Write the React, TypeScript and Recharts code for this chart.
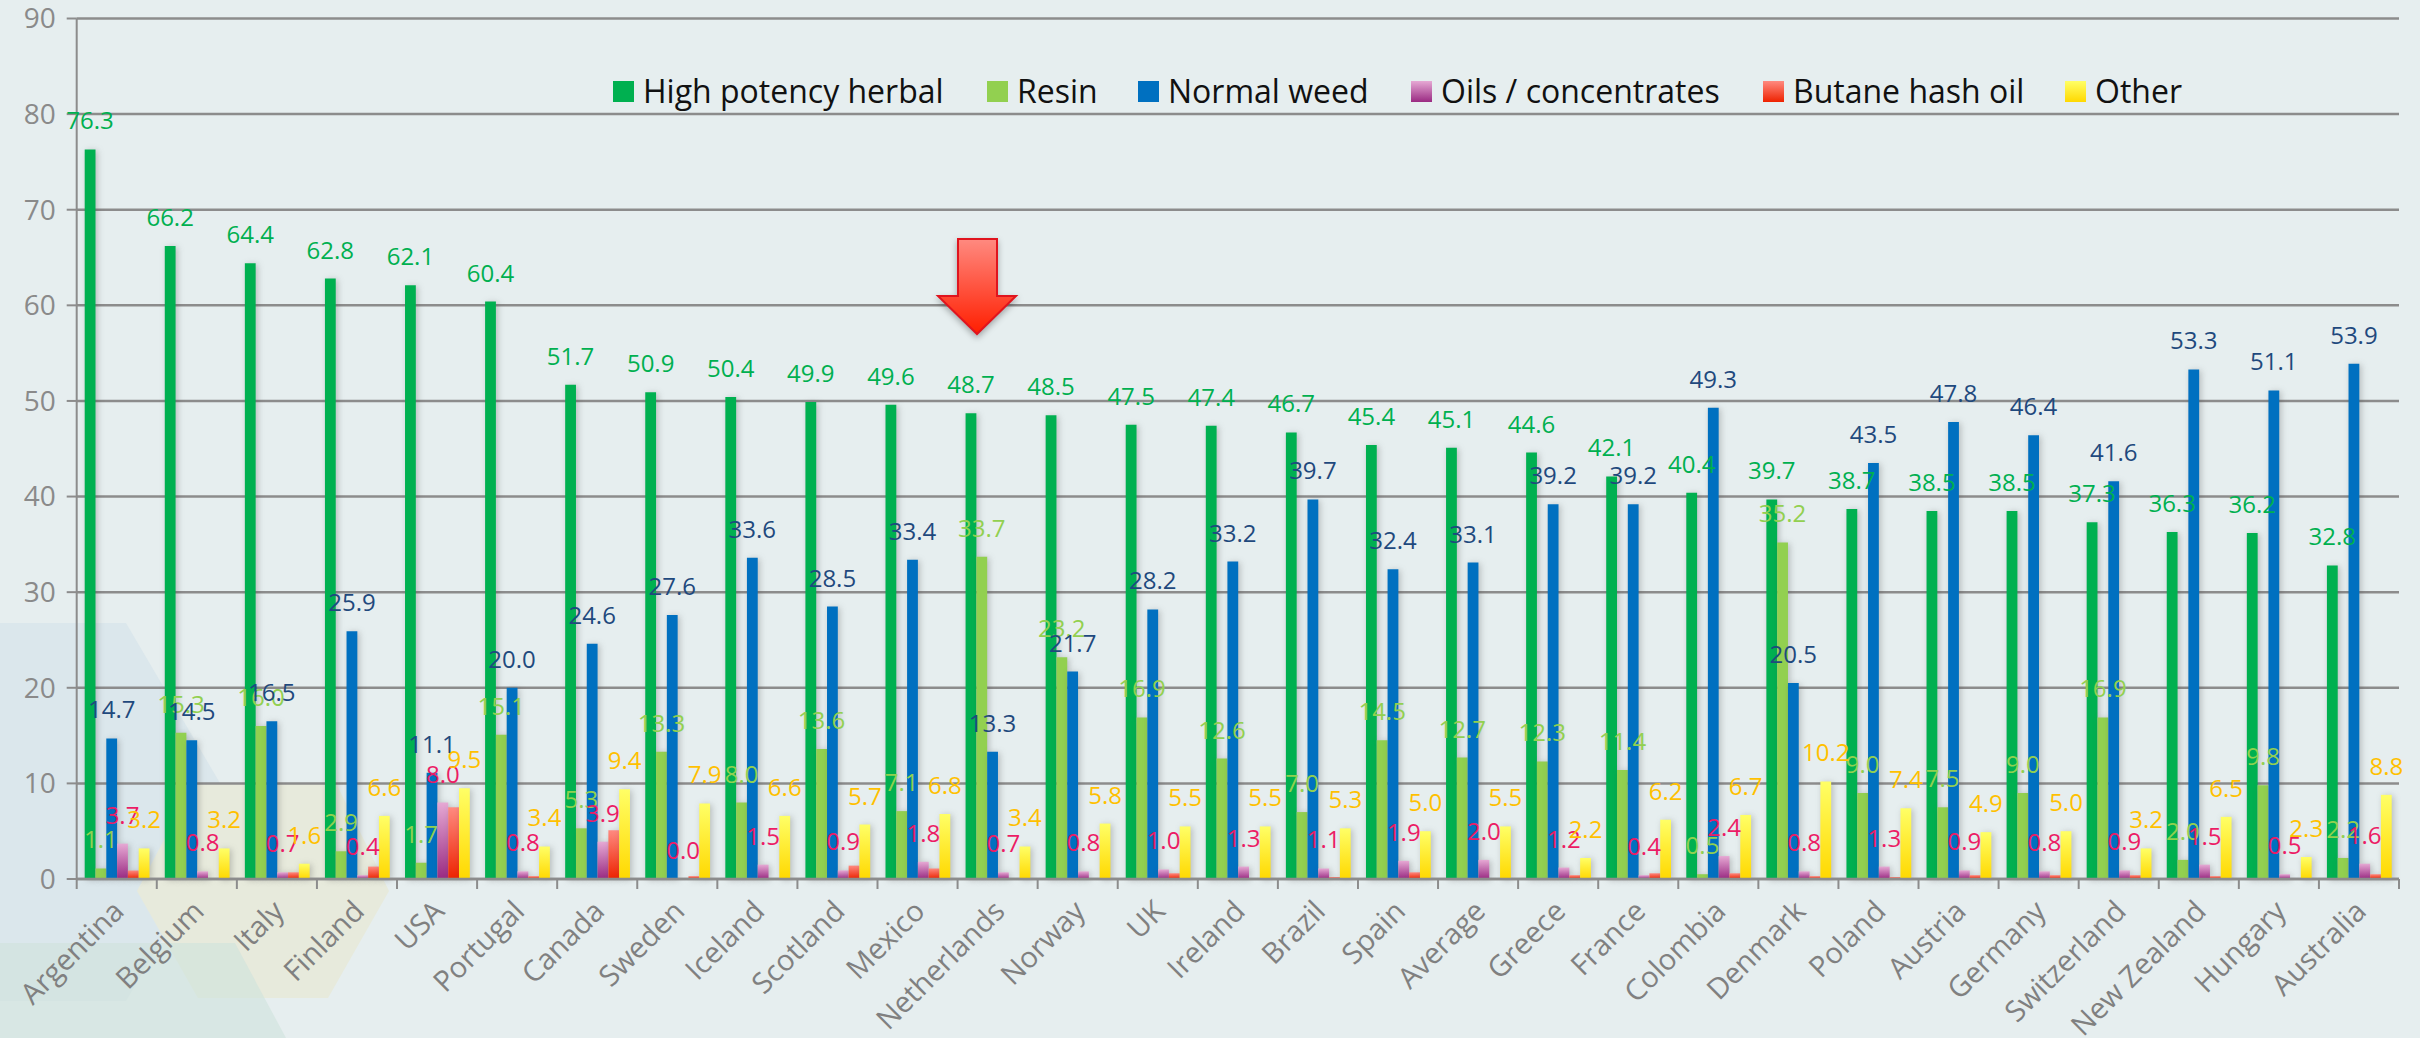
import React from 'react';
import { BarChart, Bar, XAxis, YAxis, CartesianGrid, LabelList, Legend } from 'recharts';

const countries = ['Argentina', 'Belgium', 'Italy', 'Finland', 'USA', 'Portugal', 'Canada', 'Sweden', 'Iceland', 'Scotland', 'Mexico', 'Netherlands', 'Norway', 'UK', 'Ireland', 'Brazil', 'Spain', 'Average', 'Greece', 'France', 'Colombia', 'Denmark', 'Poland', 'Austria', 'Germany', 'Switzerland', 'New Zealand', 'Hungary', 'Australia'];
const highPotency = [76.3, 66.2, 64.4, 62.8, 62.1, 60.4, 51.7, 50.9, 50.4, 49.9, 49.6, 48.7, 48.5, 47.5, 47.4, 46.7, 45.4, 45.1, 44.6, 42.1, 40.4, 39.7, 38.7, 38.5, 38.5, 37.3, 36.3, 36.2, 32.8];
const resin = [1.1, 15.3, 16.0, 2.9, 1.7, 15.1, 5.3, 13.3, 8.0, 13.6, 7.1, 33.7, 23.2, 16.9, 12.6, 7.0, 14.5, 12.7, 12.3, 11.4, 0.5, 35.2, 9.0, 7.5, 9.0, 16.9, 2.0, 9.8, 2.2];
const normalWeed = [14.7, 14.5, 16.5, 25.9, 11.1, 20.0, 24.6, 27.6, 33.6, 28.5, 33.4, 13.3, 21.7, 28.2, 33.2, 39.7, 32.4, 33.1, 39.2, 39.2, 49.3, 20.5, 43.5, 47.8, 46.4, 41.6, 53.3, 51.1, 53.9];
const oils = [3.7, 0.8, 0.7, 0.4, 8.0, 0.8, 3.9, 0.0, 1.5, 0.9, 1.8, 0.7, 0.8, 1.0, 1.3, 1.1, 1.9, 2.0, 1.2, 0.4, 2.4, 0.8, 1.3, 0.9, 0.8, 0.9, 1.5, 0.5, 1.6];
const butane = [0.9, 0, 0.7, 1.3, 7.5, 0.3, 5.1, 0.3, 0, 1.4, 1.1, 0, 0, 0.6, 0, 0.2, 0.7, 0, 0.4, 0.6, 0.6, 0.3, 0.2, 0.4, 0.4, 0.4, 0.3, 0, 0.5];
const other = [3.2, 3.2, 1.6, 6.6, 9.5, 3.4, 9.4, 7.9, 6.6, 5.7, 6.8, 3.4, 5.8, 5.5, 5.5, 5.3, 5.0, 5.5, 2.2, 6.2, 6.7, 10.2, 7.4, 4.9, 5.0, 3.2, 6.5, 2.3, 8.8];
const yTicks = [0, 10, 20, 30, 40, 50, 60, 70, 80, 90];

const data = countries.map((name, i) => ({
  name,
  highPotency: highPotency[i],
  resin: resin[i],
  normalWeed: normalWeed[i],
  oils: oils[i],
  butane: butane[i],
  other: other[i],
}));

const FONT = '"Open Sans", sans-serif';
const AXIS_GREY = '#8c8c8c';

const legendItems = [
  { name: 'High potency herbal', swatch: '#00B050', left: 613 },
  { name: 'Resin', swatch: '#92D050', left: 987 },
  { name: 'Normal weed', swatch: '#0070C0', left: 1138 },
  { name: 'Oils / concentrates', swatch: 'linear-gradient(#E6A9D4, #9A2A82)', left: 1411 },
  { name: 'Butane hash oil', swatch: 'linear-gradient(#FF8A80, #EE2200)', left: 1763 },
  { name: 'Other', swatch: 'linear-gradient(#FFFF66, #FFD800)', left: 2065 },
];

function Gradient({ id, top, bottom }: { id: string; top: string; bottom: string }) {
  return (
    <linearGradient id={id} x1="0" y1="0" x2="0" y2="1">
      <stop offset="0%" stopColor={top} />
      <stop offset="100%" stopColor={bottom} />
    </linearGradient>
  );
}

function CountryTick({ x, y, payload, index }: any) {
  const half = payload.offset ?? 40;
  return (
    <g>
      <line x1={x - half} x2={x - half} y1={y - 10} y2={y} stroke={AXIS_GREY} strokeWidth={2} />
      {index === countries.length - 1 && (
        <line x1={x + half} x2={x + half} y1={y - 10} y2={y} stroke={AXIS_GREY} strokeWidth={2} />
      )}
      <text
        x={x + 9}
        y={y + 24}
        textAnchor="end"
        transform={`rotate(-45 ${x + 9} ${y + 24})`}
        fontSize={29}
        fontFamily={FONT}
        fill="#808080"
      >
        {payload.value}
      </text>
    </g>
  );
}

function ChartLegend() {
  return (
    <div style={{ position: 'relative', width: 1600, height: 40 }}>
      {legendItems.map((item) => (
        <div key={item.name} style={{ position: 'absolute', left: item.left - 613, top: 0, display: 'flex', alignItems: 'center', whiteSpace: 'nowrap' }}>
          <span style={{ display: 'inline-block', width: 21, height: 21, background: item.swatch, marginRight: 9 }} />
          <span style={{ fontFamily: FONT, fontSize: 32, lineHeight: '40px', color: '#111' }}>{item.name}</span>
        </div>
      ))}
    </div>
  );
}

const fmt = (v: any) => Number(v).toFixed(1);
const labelProps = { position: 'top' as const, offset: 20, fontSize: 24, fontFamily: FONT, formatter: fmt };

function Backdrop() {
  return (
    <svg width={2420} height={1038} style={{ position: 'absolute', left: 0, top: 0 }}>
      <rect width={2420} height={1038} fill="#e6eeef" />
      <polygon points="0,623 126,623 237,812 126,1001 0,1001" fill="#dbe7ec" />
      <polygon points="194,783 336,783 389,891 328,998 198,998 137,891" fill="#e7eadc" />
      <polygon points="0,943 235,943 286,1038 0,1038" fill="#cfe2dc" opacity={0.6} />
    </svg>
  );
}

function Arrow() {
  return (
    <svg width={2420} height={1038} style={{ position: 'absolute', left: 0, top: 0, pointerEvents: 'none' }}>
      <defs>
        <linearGradient id="arrowFill" x1="0" y1="0" x2="0" y2="1">
          <stop offset="0%" stopColor="#FF8A80" />
          <stop offset="100%" stopColor="#FF1E00" />
        </linearGradient>
      </defs>
      <polygon
        points="958,239 997,239 997,296 1016,296 977,334 938,296 958,296"
        fill="url(#arrowFill)"
        stroke="#E0141E"
        strokeWidth={2}
        style={{ filter: 'drop-shadow(0 3px 3px rgba(0,0,0,.3))' }}
      />
    </svg>
  );
}

export default function App() {
  return (
    <div style={{ position: 'absolute', left: 0, top: 0, width: 2420, height: 1038, overflow: 'hidden' }}>
      <style>{`.recharts-bar-rectangle{filter:drop-shadow(2px 1px 3px rgba(60,60,60,.28));}`}</style>
      <Backdrop />
      <div style={{ position: 'absolute', left: 0, top: 0 }}>
        <BarChart
          width={2420}
          height={1038}
          data={data}
          margin={{ top: 18.5, right: 21, bottom: 0, left: 0 }}
          barSize={10.8}
          barGap={0}
        >
          <defs>
            <Gradient id="oilsFill" top="#E6A9D4" bottom="#9A2A82" />
            <Gradient id="butaneFill" top="#FF8A80" bottom="#EE2200" />
            <Gradient id="otherFill" top="#FFFF66" bottom="#FFD800" />
          </defs>
          <CartesianGrid horizontal vertical={false} stroke={AXIS_GREY} strokeWidth={2.5} />
          <XAxis
            dataKey="name"
            height={159}
            interval={0}
            axisLine={{ stroke: AXIS_GREY, strokeWidth: 2.5 }}
            tickLine={false}
            tick={<CountryTick />}
            tickMargin={0}
            tickSize={10}
          />
          <YAxis
            width={76.7}
            domain={[0, 90]}
            ticks={yTicks}
            interval={0}
            axisLine={{ stroke: AXIS_GREY, strokeWidth: 2 }}
            tickLine={{ stroke: AXIS_GREY, strokeWidth: 2 }}
            tickSize={10}
            tickMargin={11}
            tick={{ fill: '#8a8a8a', fontSize: 28, fontFamily: FONT }}
          />
          <Legend
            layout="horizontal"
            verticalAlign="middle"
            align="center"
            wrapperStyle={{ left: 613, top: 71, width: 1600 }}
            content={<ChartLegend />}
          />
          <Bar dataKey="highPotency" name="High potency herbal" fill="#00B050" isAnimationActive={false}>
            <LabelList dataKey="highPotency" fill="#00B050" {...labelProps} />
          </Bar>
          <Bar dataKey="resin" name="Resin" fill="#92D050" isAnimationActive={false}>
            <LabelList dataKey="resin" fill="#92D050" {...labelProps} />
          </Bar>
          <Bar dataKey="normalWeed" name="Normal weed" fill="#0070C0" isAnimationActive={false}>
            <LabelList dataKey="normalWeed" fill="#1F497D" {...labelProps} />
          </Bar>
          <Bar dataKey="oils" name="Oils / concentrates" fill="url(#oilsFill)" minPointSize={0.01} isAnimationActive={false}>
            <LabelList dataKey="oils" fill="#EC1C65" {...labelProps} />
          </Bar>
          <Bar dataKey="butane" name="Butane hash oil" fill="url(#butaneFill)" isAnimationActive={false} />
          <Bar dataKey="other" name="Other" fill="url(#otherFill)" isAnimationActive={false}>
            <LabelList dataKey="other" fill="#FFC000" {...labelProps} />
          </Bar>
        </BarChart>
      </div>
      <Arrow />
    </div>
  );
}
